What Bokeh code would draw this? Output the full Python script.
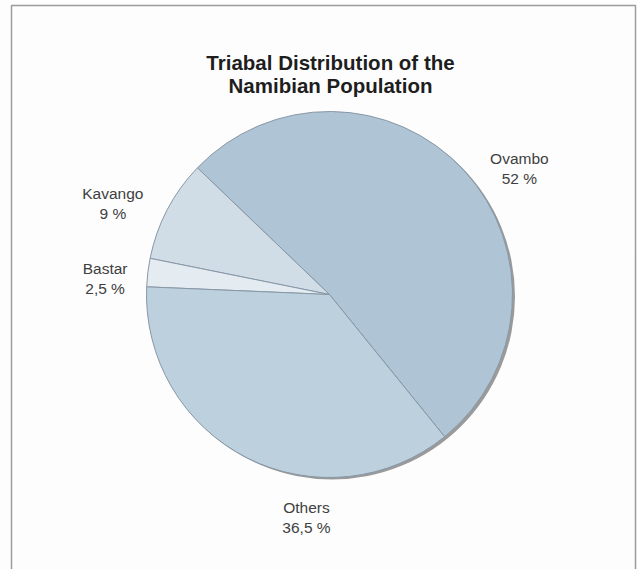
import math
from bokeh.plotting import figure
from bokeh.models import Range1d, ColumnDataSource
from bokeh.core.properties import value
from bokeh.embed import file_html
from bokeh.resources import INLINE

# ---- data ----
categories = ["Ovambo", "Kavango", "Bastar", "Others"]
shares = [52.0, 9.0, 2.5, 36.5]
share_labels = ["52 %", "9 %", "2,5 %", "36,5 %"]
colors = ["#afc4d4", "#d1dde6", "#e4ebf1", "#bdd0dd"]
title_lines = ["Triabal Distribution of the", "Namibian Population"]

# ---- layout ----
W, H = 637, 569
cx, cy, R = 329, 275, 183
start_deg = -51.0
label_angle_deg = [33.6, 157.2, 175.9, -95.9]
label_dist = [228, 235, 225, 224]

p = figure(width=W, height=H, output_backend="svg", toolbar_location=None,
           x_range=Range1d(0, W), y_range=Range1d(0, H), min_border=0)
p.axis.visible = False
p.grid.visible = False
p.outline_line_color = None
p.background_fill_color = "#fdfdfd"
p.border_fill_color = "#ffffff"

# frame
p.line([11, 11, 635, 635], [0, 564, 564, 0], line_color="#9c9c9c", line_width=1.5)

# wedges
total = sum(shares)
starts, ends = [], []
a = math.radians(start_deg)
for s in shares:
    starts.append(a)
    a += 2 * math.pi * s / total
    ends.append(a)

# shadow
p.wedge(x=cx + 2.5, y=cy - 2, radius=R, start_angle=0, end_angle=2 * math.pi,
        fill_color="#9a9a9a", line_color=None)

src = ColumnDataSource(dict(start=starts, end=ends, color=colors, cat=categories))
p.wedge(x=cx, y=cy, radius=R, start_angle="start", end_angle="end", source=src,
        fill_color="color", line_color="#8797a6", line_width=1)

# labels
for cat, lab, ang, d in zip(categories, share_labels, label_angle_deg, label_dist):
    t = math.radians(ang)
    lx = cx + d * math.cos(t)
    ly = cy + d * math.sin(t)
    p.text(x=[lx], y=[ly + 10], text=[cat], text_align="center", text_baseline="middle",
           text_font=value("Liberation Sans"), text_font_size="15.5px", text_color="#404040")
    p.text(x=[lx], y=[ly - 10], text=[lab], text_align="center", text_baseline="middle",
           text_font=value("Liberation Sans"), text_font_size="15.5px", text_color="#404040")

# title
for i, line in enumerate(title_lines):
    p.text(x=[cx + 1], y=[507 - 23 * i], text=[line], text_align="center", text_baseline="middle",
           text_font=value("Liberation Sans"), text_font_size="20.5px", text_font_style="bold",
           text_color="#1e1e1e")

open("out.html", "w").write(file_html(p, INLINE))
